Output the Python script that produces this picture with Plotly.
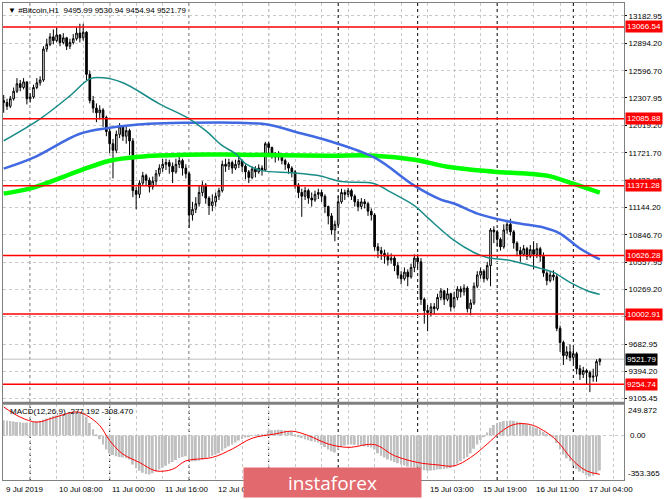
import plotly.graph_objects as go

# ---- H1 candles, bar index 0 = first bar on screen ----
first_open = 12280
closes = [
    12260, 12220, 12300, 12380, 12460, 12420, 12480, 12300, 12320, 12420,
    12470, 12500, 12830, 12880, 12960, 12920, 12980, 12900, 12950, 12860,
    12900, 12940, 13000, 12950, 13010, 12560, 12280, 12200, 12150, 12180,
    12100, 11950, 11820, 11750, 11920, 12000, 11900, 11960, 11850, 11320,
    11280, 11400, 11480, 11430, 11360, 11420, 11500, 11560, 11600, 11620,
    11580, 11520, 11600, 11640, 11560, 11500, 11060, 11120, 11180, 11300,
    11380, 11240, 11160, 11200, 11260, 11320, 11600, 11580, 11620, 11560,
    11600, 11640, 11580, 11520, 11460, 11550, 11520, 11560, 11540, 11820,
    11780, 11700, 11680, 11700, 11640, 11600, 11560, 11520, 11380, 11300,
    11260, 11320, 11240, 11220, 11280, 11300, 11260, 11150, 11050, 10900,
    10960, 11200, 11300, 11280, 11320, 11260, 11200, 11150, 11200, 11180,
    11100, 11060, 10720, 10680, 10650, 10620, 10580, 10600, 10520, 10420,
    10380, 10450, 10400, 10500, 10600, 10560, 10160, 10040, 10020, 10080,
    10060, 10180, 10250, 10160, 10220, 10080, 10180, 10270, 10240, 10280,
    10060, 10120, 10300, 10420, 10460, 10380, 10520, 10900, 10880, 10800,
    10720, 10900, 10960, 10880, 10760, 10680, 10640, 10700, 10620, 10690,
    10640, 10700, 10620, 10440, 10360, 10420, 10400, 9850, 9700, 9560,
    9600, 9540, 9580, 9420, 9360, 9400, 9380, 9330, 9340, 9495.99,
    9521.79,
]
highs = [
    12340, 12300, 12330, 12420, 12520, 12500, 12520, 12460, 12360, 12450,
    12520, 12540, 12860, 12940, 13000, 13040, 13060, 12990, 13000, 12960,
    12940, 12990, 13060, 13100, 13100, 13020, 12600, 12330, 12250, 12230,
    12200, 12120, 11980, 11870, 11960, 12040, 12020, 12000, 11980, 11880,
    11360, 11430, 11520, 11500, 11460, 11470, 11540, 11600, 11660, 11660,
    11650, 11620, 11660, 11680, 11660, 11600, 11520, 11200, 11250, 11380,
    11420, 11400, 11260, 11280, 11300, 11350, 11640, 11660, 11660, 11640,
    11650, 11680, 11650, 11600, 11540, 11580, 11580, 11600, 11590, 11840,
    11840, 11790, 11730, 11740, 11720, 11660, 11620, 11580, 11540, 11400,
    11340, 11360, 11340, 11300, 11320, 11340, 11330, 11280, 11160, 11080,
    11000, 11260, 11340, 11330, 11350, 11340, 11280, 11230, 11240, 11230,
    11200, 11130, 11080, 10760, 10720, 10690, 10660, 10650, 10620, 10560,
    10460, 10500, 10480, 10540, 10640, 10640, 10600, 10180, 10100, 10120,
    10120, 10220, 10280, 10260, 10280, 10230, 10240, 10300, 10300, 10320,
    10300, 10160, 10340, 10460, 10500, 10480, 10560, 10920, 10940, 10900,
    10820, 10960, 11000, 11020, 10900, 10780, 10720, 10740, 10720, 10740,
    10780, 10760, 10720, 10660, 10460, 10460, 10470, 10430, 9880, 9720,
    9660, 9680, 9640, 9600, 9460, 9440, 9420, 9400, 9420, 9520,
    9530.94,
]
lows = [
    12150, 12180, 12200, 12280, 12360, 12380, 12400, 12240, 12260, 12300,
    12400, 12440, 12480, 12800, 12860, 12880, 12900, 12860, 12880, 12820,
    12830, 12880, 12920, 12900, 12920, 12500, 12250, 12150, 12050, 12080,
    12000, 11900, 11720, 11450, 11720, 11880, 11850, 11820, 11700, 11250,
    11120, 11240, 11380, 11370, 11300, 11330, 11380, 11470, 11520, 11540,
    11500, 11400, 11500, 11560, 11480, 11450, 10920, 11000, 11080, 11150,
    11260, 11180, 11060, 11100, 11150, 11220, 11300, 11520, 11540, 11500,
    11540, 11560, 11520, 11440, 11400, 11440, 11460, 11500, 11480, 11530,
    11700, 11660, 11620, 11640, 11600, 11540, 11500, 11460, 11340, 11240,
    11040, 11220, 11180, 11150, 11200, 11230, 11200, 11080, 10960, 10850,
    10780, 10940, 11180, 11220, 11250, 11220, 11150, 11100, 11120, 11130,
    11050, 11000, 10680, 10600, 10580, 10540, 10520, 10540, 10460, 10380,
    10320, 10360, 10300, 10380, 10450, 10500, 10100, 9900, 9820, 9980,
    10000, 10040, 10150, 10100, 10140, 10030, 10060, 10150, 10180, 10200,
    10020, 9990, 10100, 10280, 10380, 10340, 10360, 10300, 10760, 10720,
    10680, 10700, 10860, 10840, 10700, 10620, 10560, 10620, 10580, 10600,
    10480, 10600, 10560, 10400, 10310, 10340, 10360, 9820, 9600, 9460,
    9520, 9500, 9480, 9360, 9300, 9320, 9250, 9170, 9280, 9280,
    9454.94,
]
opens = [first_open] + closes[:-1]
bars = list(range(len(closes)))

# ---- moving averages (read at a few bars) ----
teal_bars = [0, 11, 20, 26, 30, 36, 47, 56, 61, 66, 70, 73, 78, 87, 95, 102,
             112, 116, 124, 128, 136, 142, 146, 153, 162, 166, 171, 176, 180]
teal_vals = [11852, 12086, 12331, 12512, 12523, 12470, 12246, 12086, 11959,
             11799, 11714, 11607, 11533, 11511, 11480, 11416, 11394, 11320,
             11160, 11032, 10788, 10660, 10607, 10575, 10490, 10447, 10340,
             10255, 10213]
blue_bars = [0, 9, 23, 32, 44, 56, 71, 80, 89, 98, 112, 124, 132, 136, 143,
             154, 163, 168, 174, 180]
blue_vals = [11554, 11671, 11927, 11990, 12033, 12044, 12044, 12023, 11937,
             11852, 11671, 11373, 11224, 11182, 11075, 10979, 10926, 10862,
             10702, 10585]
green_bars = [0, 9, 23, 32, 41, 55, 71, 98, 112, 124, 134, 148, 164, 171, 180]
green_vals = [11288, 11352, 11533, 11639, 11682, 11703, 11703, 11693, 11693,
              11650, 11575, 11522, 11480, 11405, 11298]

# ---- MACD(12,26,9) ----
macd_main = [
    122, 118, 115, 112, 108, 105, 103, 102, 104,
    108, 112, 118, 125,
    135, 145, 155, 162, 168, 172, 176, 180, 184, 186, 188, 185,
    150, 100, 50, 10, -30, -70, -110, -140,
    -155, -165, -170, -175, -180, -190,
    -230,
    -260, -280, -295, -305, -310, -300,
    -285, -270, -255, -240,
    -225, -210, -195, -180, -170, -165,
    -190, -205, -205, -200,
    -190, -180, -170, -160, -150, -140, -120, -100,
    -85, -70, -55, -40, -28, -15,
    -8, -2, 2, 5, 8, 10,
    35, 42, 45, 46, 44, 40, 35, 28,
    10, -5, -20, -30, -38, -45, -50, -55,
    -75, -90, -110, -125, -135,
    -110, -90, -78, -72, -70, -72, -76,
    -80, -85, -90, -95, -110, -140,
    -160, -175, -190, -200, -210, -220, -230, -238, -245, -250, -252, -250, -262,
    -275, -280, -278, -275, -270, -268, -265, -262, -258, -245,
    -225, -205, -185, -170, -140, -105, -70,
    -35, -5, 25, 60, 85,
    100, 108, 115, 118, 120, 118,
    112, 105, 98, 90, 82, 72, 60, 48,
    30, 15, 5, -10,
    -60, -110, -150, -180, -205,
    -240, -265, -285, -300, -315, -325, -320, -305, -277.192,
]
signal_bars = [0, 5, 10, 15, 22, 25, 29, 32, 36, 41, 46, 51, 55, 63, 69, 75,
               82, 87, 92, 98, 104, 112, 118, 125, 131, 136, 141, 146, 150,
               154, 159, 163, 167, 172, 176, 180]
signal_vals = [228, 147, 107, 142, 188, 161, 80, -40, -147, -214, -281, -268,
               -201, -174, -107, -21, 13, 35, 0, -67, -94, -72, -160, -214,
               -233, -241, -174, -67, 27, 88, 88, 40, -40, -201, -281, -308.47]
macd_max = 249.872
macd_min = -353.365

levels = [13066.54, 12085.88, 11371.28, 10626.28, 10002.91, 9254.74]
last_price = 9521.79

price_ticks = [13182.95, 12894.20, 12596.70, 12307.95, 12019.20, 11721.70,
               11432.95, 11144.20, 10846.70, 10557.95, 10269.20, 9971.70,
               9682.95, 9394.20, 9105.45]
# labels under the watermark are not visible, so only the visible ones
date_bars = [0, 16, 32, 48, 64, 128, 144, 160, 176]
date_labels = ["9 Jul 2019", "10 Jul 08:00", "11 Jul 00:00", "11 Jul 16:00",
               "12 Jul 08:00", "15 Jul 03:00", "15 Jul 19:00", "16 Jul 11:00",
               "17 Jul 04:00"]
day_starts = [8, 32, 56, 80, 101, 125, 149, 172]

# plot box in pixels (for overlay placement)
L, R, T, B = 2, 627, 2, 480
def pxx(p):
    return (p - L) / (R - L)
def pxy(p):
    return (B - p) / (B - T)

FONT = "Liberation Sans, Arial, sans-serif"
FS = 8
GRID = "#c8c8c8"

fig = go.Figure()
fig.add_trace(go.Candlestick(
    x=bars, open=opens, high=highs, low=lows, close=closes,
    increasing=dict(line=dict(color="black", width=1), fillcolor="white"),
    decreasing=dict(line=dict(color="black", width=1), fillcolor="black"),
    whiskerwidth=0, xaxis="x", yaxis="y"))
fig.add_trace(go.Scatter(x=green_bars, y=green_vals, mode="lines",
                         line=dict(color="#00ff00", width=4.5, shape="spline")))
fig.add_trace(go.Scatter(x=blue_bars, y=blue_vals, mode="lines",
                         line=dict(color="#4169e1", width=2.5, shape="spline")))
fig.add_trace(go.Scatter(x=teal_bars, y=teal_vals, mode="lines",
                         line=dict(color="#1a8c88", width=1.5, shape="spline")))
fig.add_trace(go.Bar(x=bars, y=macd_main, width=0.6, xaxis="x2", yaxis="y2",
                     marker=dict(color="#c0c0c0", line=dict(width=0))))
fig.add_trace(go.Scatter(x=signal_bars, y=signal_vals, mode="lines",
                         xaxis="x2", yaxis="y2",
                         line=dict(color="#ff0000", width=1, shape="spline")))

shapes = []
for d in day_starts:
    shapes.append(dict(type="line", xref="x", yref="paper", x0=d, x1=d, y0=0, y1=1,
                       line=dict(color="black", width=1, dash="dot"), layer="below"))
shapes.append(dict(type="line", xref="paper", yref="y", x0=0, x1=1,
                   y0=last_price, y1=last_price, line=dict(color="#c0c0c0", width=1),
                   layer="below"))
shapes.append(dict(type="line", xref="paper", yref="y2", x0=0, x1=1, y0=0, y1=0,
                   line=dict(color=GRID, width=1, dash="dot"), layer="below"))
for v in levels:
    shapes.append(dict(type="line", xref="paper", yref="y", x0=0, x1=1, y0=v, y1=v,
                       line=dict(color="#ff0000", width=1.5)))
# panel separator
shapes.append(dict(type="rect", xref="paper", yref="paper", x0=0, x1=1,
                   y0=pxy(404.5), y1=pxy(401.5), fillcolor="#808080",
                   line=dict(width=0)))

ann = []
ann.append(dict(xref="paper", yref="paper", x=0, y=1, xanchor="left", yanchor="top",
                xshift=3, yshift=-1, showarrow=False,
                text="▼ #Bitcoin,H1\u00a0\u00a09495.99 9530.94 9454.94 9521.79",
                font=dict(family=FONT, size=FS, color="black")))
ann.append(dict(xref="paper", yref="paper", x=0, y=pxy(405), xanchor="left",
                yanchor="top", xshift=5, showarrow=False,
                text="MACD(12,26,9) -277.192 -308.470",
                font=dict(family=FONT, size=FS, color="black")))
for v in levels:
    ann.append(dict(xref="paper", yref="y", x=1, y=v, xanchor="left", yanchor="middle",
                    xshift=1, showarrow=False, text=f"{v:.2f}", bgcolor="#ff0000",
                    borderpad=1, font=dict(family=FONT, size=FS, color="white")))
ann.append(dict(xref="paper", yref="y", x=1, y=last_price, xanchor="left",
                yanchor="middle", xshift=1, showarrow=False, text=f"{last_price:.2f}",
                bgcolor="black", borderpad=1, font=dict(family=FONT, size=FS, color="white")))
ann.append(dict(xref="paper", yref="y2", x=1, y=macd_max, xanchor="left",
                yanchor="top", xshift=2, showarrow=False, text=f"{macd_max:.3f}",
                font=dict(family=FONT, size=FS, color="black")))
ann.append(dict(xref="paper", yref="y2", x=1, y=0, xanchor="left",
                yanchor="middle", xshift=4, showarrow=False, text="0.00",
                font=dict(family=FONT, size=FS, color="black")))
ann.append(dict(xref="paper", yref="y2", x=1, y=macd_min, xanchor="left",
                yanchor="bottom", xshift=2, showarrow=False, text=f"{macd_min:.3f}",
                font=dict(family=FONT, size=FS, color="black")))
for b, lab in zip(date_bars, date_labels):
    ann.append(dict(xref="x2", yref="paper", x=b, y=0, xanchor="left", yanchor="top",
                    yshift=-3, showarrow=False, text=lab,
                    font=dict(family=FONT, size=FS, color="black")))
# watermark, drawn last so it sits over the date labels
ann.append(dict(xref="paper", yref="paper", x=pxx(333.5), y=pxy(482.5),
                xanchor="center", yanchor="middle", showarrow=False, text="instaforex",
                width=177, height=29, borderpad=0, bgcolor="#e26a6e",
                font=dict(family="Open Sans, Lato, sans-serif", size=19, color="white")))

xcommon = dict(range=[-0.21, 187.3], showticklabels=False, tickmode="linear",
               tick0=0, dtick=8, showgrid=True, gridcolor=GRID, griddash="dot",
               gridwidth=1, zeroline=False, showline=True, mirror=True,
               linecolor="#808080", ticks="")

fig.update_layout(
    width=665, height=499,
    margin=dict(l=L, r=665 - R, t=T, b=499 - B),
    paper_bgcolor="white", plot_bgcolor="white",
    showlegend=False,
    font=dict(family=FONT, size=FS, color="black"),
    xaxis=dict(domain=[0, 1], anchor="y", rangeslider=dict(visible=False), **xcommon),
    xaxis2=dict(domain=[0, 1], anchor="y2", matches="x", **xcommon),
    yaxis=dict(domain=[pxy(402), 1], anchor="x", side="right", range=[9063.0, 13321.3],
               tickmode="array", tickvals=price_ticks,
               ticktext=[f"{v:.2f}" for v in price_ticks],
               ticks="outside", ticklen=2, tickcolor="black",
               showgrid=True, gridcolor=GRID, griddash="dot", zeroline=False,
               showline=True, mirror=True, linecolor="#808080"),
    yaxis2=dict(domain=[0, pxy(404)], anchor="x2", side="right",
                range=[macd_min, macd_max], showticklabels=False, showgrid=False,
                zeroline=False, showline=True, mirror=True, linecolor="#808080"),
    shapes=shapes,
    annotations=ann,
)

# page body has a default 8px margin; drop it so the chart sits at the corner
fig.write_html("out.html", config={"displayModeBar": False},
               post_script="document.body.style.margin='0';")
